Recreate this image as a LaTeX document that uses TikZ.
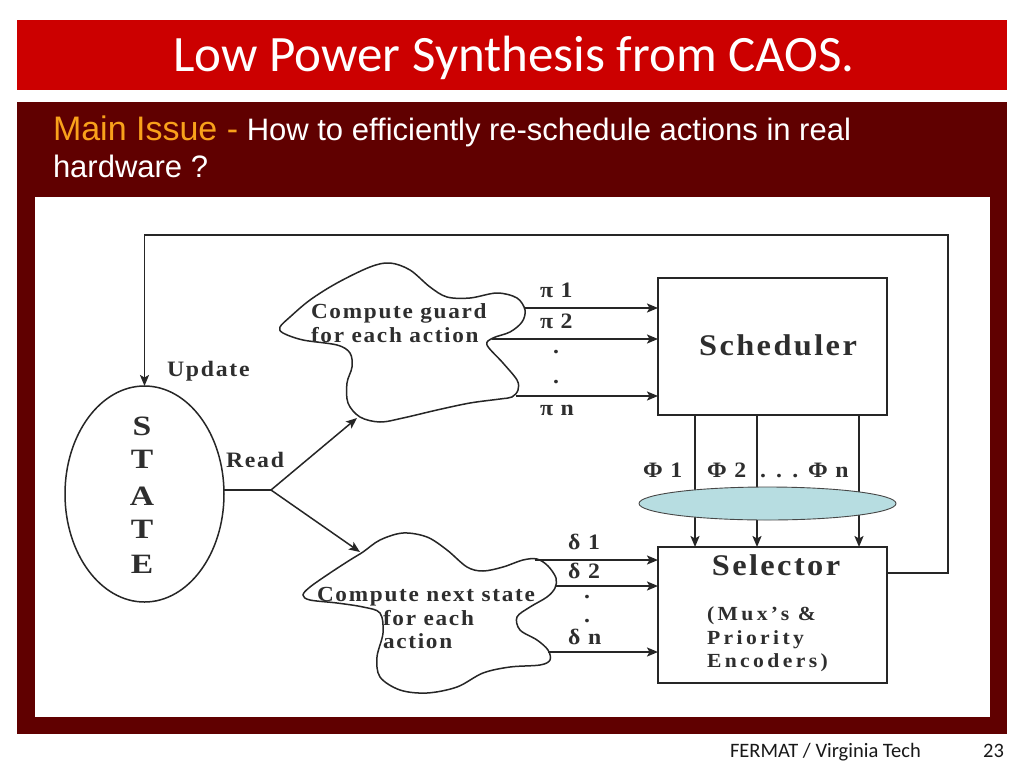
\documentclass[tikz,border=0pt]{standalone}
\usepackage{fontspec}
\setmainfont{Liberation Serif}
\newfontfamily\dg[LetterSpace=8,FakeStretch=1.08]{Liberation Serif}
\newfontfamily\dgs[LetterSpace=17,FakeStretch=1.08]{Liberation Serif}
\newfontfamily\dgw[FakeStretch=1.2]{Liberation Serif}
\newfontfamily\ttl{Carlito}
\newfontfamily\ar{Liberation Sans}
\usetikzlibrary{arrows.meta,calc,shapes.geometric}
\definecolor{barred}{HTML}{CC0000}
\definecolor{darkred}{HTML}{600000}
\definecolor{orng}{HTML}{F9A11B}
\definecolor{lblue}{HTML}{B7DDE1}
\definecolor{ink}{HTML}{262626}
\definecolor{txt}{HTML}{2E2E2E}
\newcommand{\fsz}[1]{\fontsize{#1}{#1}\selectfont}
\begin{document}
\begin{tikzpicture}[x=1pt,y=-1pt,
  every node/.style={inner sep=0pt,outer sep=0pt},
  lbl/.style={font={\dg\bfseries\fsz{22}},text=txt,anchor=base west},
  cl/.style={font={\dg\bfseries\fsz{21.5}},text=txt,anchor=base west},
  big/.style={font={\dg\bfseries\fsz{30}},text=txt,anchor=base},
  let/.style={font={\dgw\bfseries\fsz{28}},text=txt,anchor=base},
  small/.style={font={\dgs\bfseries\fsz{20}},text=txt,anchor=base west},
  arr/.style={draw=ink,line width=1.9pt,-{Stealth[length=11pt,width=9pt,inset=2.5pt]}},
  thin/.style={draw=ink,line width=1.5pt},
  thinarr/.style={draw=ink,line width=1.5pt,-{Stealth[length=11pt,width=9pt,inset=2.5pt]}},
  box/.style={draw=ink,line width=2.6pt,minimum width=229pt,minimum height=137pt},
  cloudline/.style={draw=ink,line width=1.5pt,fill=white}
]
% page
\useasboundingbox (0,0) rectangle (1024,768);
\fill[white] (0,0) rectangle (1024,768);
\fill[barred] (17,20) rectangle (1007,90);
\fill[darkred] (17,102) rectangle (1007,734);
\fill[white] (35,197) rectangle (990,717);
\node[font={\ttl\fsz{51}},text=white,anchor=base] (title) at (514,71) {Low Power Synthesis from CAOS.};
\node[font={\ar\fsz{31}},text=white,anchor=base west] (issue) at (53,140)
  {{\color{orng}\fsz{34}Main Issue -} How to efficiently re-schedule actions in real};
\node[font={\ar\fsz{31}},text=white,anchor=base west] (issue2) at (53,177) {hardware ?};
\node[font={\ttl\fsz{20.5}},text=black!90,anchor=base west] (foot) at (730,757) {FERMAT / Virginia Tech};
\node[font={\ttl\fsz{20.5}},text=black!90,anchor=base east] (pg) at (1004,757) {23};

% STATE
\node[ellipse,draw=ink,line width=1.5pt,minimum width=159pt,minimum height=216pt] (state) at (144.5,494) {};
\node[let] (s1) at (142,435) {S};
\node[let] (s2) at (142,468) {T};
\node[let] (s3) at (142,505) {A};
\node[let] (s4) at (142,538) {T};
\node[let] (s5) at (142,573) {E};
\node[lbl] (upd) at (167,376) {Update};
\node[lbl] (read) at (226,467) {Read};

% clouds
\draw[cloudline] plot[smooth cycle,tension=0.55] coordinates {
 (280,327) (290,317) (310,300) (337,283) (370,267) (390,263) (410,270) (430,287)
 (447,297) (470,298) (497,293) (517,298) (525,310) (522,322) (510,332) (493,338)
 (487,345) (503,363) (517,380) (518,390) (512,397) (500,399) (470,403) (437,410)
 (403,418) (380,422) (360,417) (348,403) (347,383) (352,367) (350,353) (337,345)
 (303,340) (283,333)};
\draw[cloudline] plot[smooth cycle,tension=0.55] coordinates {
 (363,552) (380,540) (403,533) (427,537) (447,550) (467,567) (483,571) (503,567)
 (523,560) (537,559) (548,566) (556,578) (555,588) (547,597) (530,607) (517,617)
 (520,630) (537,640) (548,650) (550,660) (540,665) (510,667) (483,673) (457,687)
 (427,693) (400,690) (380,677) (377,657) (383,633) (380,613) (363,607) (337,603)
 (310,600) (303,595) (310,587) (330,573) (350,560)};
\node[cl] (cg1) at (311,318) {Compute guard};
\node[cl] (cg2) at (311,342) {for each action};
\node[cl,anchor=base] (cn1) at (426,601) {Compute next state};
\node[cl] (cn2) at (383,625) {for each};
\node[cl] (cn3) at (383,648) {action};

% boxes
\node[box] (sched) at (772.5,346.5) {};
\node[big] (schedtxt) at (778,355) {Scheduler};
\node[box,minimum height=136pt] (sel) at (772.5,615) {};
\node[big] (seltxt) at (776,575) {Selector};
\node[small] (sel1) at (707,620) {(Mux’s \&};
\node[small] (sel2) at (707,644) {Priority};
\node[small] (sel3) at (707,667) {Encoders)};

% read branch
\coordinate (br) at (271,490);
\coordinate (ga) at (357,418);
\coordinate (na) at (360,552);
\draw[thin] (br -| state.east) -- (br);
\draw[thinarr] (br) -- (ga);
\draw[thinarr] (br) -- (na);

% pi arrows
\coordinate (g1) at (524,308);
\coordinate (g2) at (492,339);
\coordinate (gn) at (516,396);
\draw[arr] (g1) -- (g1 -| sched.west);
\draw[arr] (g2) -- (g2 -| sched.west);
\draw[arr] (gn) -- (gn -| sched.west);
\node[lbl] (pi1) at (540,297) {π 1};
\node[lbl] (pi2) at (540,328) {π 2};
\node[lbl,anchor=base] (pd1) at (556,353) {.};
\node[lbl,anchor=base] (pd2) at (556,383) {.};
\node[lbl] (pin) at (540,415) {π n};

% delta arrows
\coordinate (d1) at (535,560);
\coordinate (d2) at (556,586);
\coordinate (dn) at (548,652);
\draw[arr] (d1) -- (d1 -| sel.west);
\draw[arr] (d2) -- (d2 -| sel.west);
\draw[arr] (dn) -- (dn -| sel.west);
\node[lbl] (de1) at (568,549) {δ 1};
\node[lbl] (de2) at (568,578) {δ 2};
\node[lbl,anchor=base] (dd1) at (587,598) {.};
\node[lbl,anchor=base] (dd2) at (587,622) {.};
\node[lbl] (den) at (568,644) {δ n};

% phi lines
\coordinate (px1) at (695,0);
\coordinate (px2) at (757,0);
\coordinate (px3) at (859,0);
\draw[arr] (px1 |- sched.south) -- (px1 |- sel.north);
\draw[arr] (px2 |- sched.south) -- (px2 |- sel.north);
\draw[arr] (px3 |- sched.south) -- (px3 |- sel.north);
\node[ellipse,draw=ink!85,line width=0.9pt,fill=lblue,minimum width=257pt,minimum height=33pt] (phiell) at (767.5,503.5) {};
\node[lbl] (ph1) at (643,477) {Φ 1};
\node[lbl] (ph2) at (707,477) {Φ 2};
\node[lbl] (phd) at (760,477) {. . .};
\node[lbl] (phn) at (808,477) {Φ n};

% feedback
\coordinate (fbR) at (948,235);
\draw[arr] ($(sel.north east)+(0,26)$) -| (fbR) -| (state.north);
\end{tikzpicture}
\end{document}
